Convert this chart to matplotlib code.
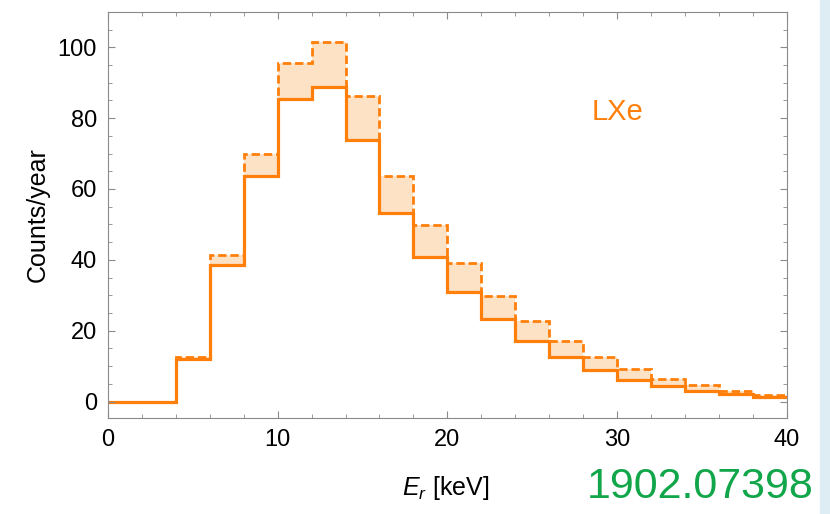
import matplotlib

matplotlib.use("Agg")
import matplotlib.pyplot as plt
import numpy as np
from matplotlib.patches import Rectangle
from matplotlib.ticker import MultipleLocator

# bin edges in keV (2 keV bins)
edges = np.arange(0, 42, 2)

# counts/year, lower (solid) and upper (dashed) histograms
solid = [0, 0, 12.0, 38.5, 63.8, 85.3, 88.7, 73.7, 53.3, 40.7,
         30.9, 23.3, 17.1, 12.5, 8.9, 6.1, 4.5, 3.0, 2.1, 1.2]
dashed = [0, 0, 12.7, 41.3, 70.0, 95.6, 101.4, 86.2, 63.8, 49.8,
          39.0, 29.9, 22.8, 17.2, 12.7, 9.2, 6.4, 4.7, 3.1, 1.9]

ORANGE = "#ff7f0a"
GRAY = "#8a8a8a"

plt.rcParams["font.family"] = ["Liberation Sans", "DejaVu Sans"]
plt.rcParams["mathtext.fontset"] = "custom"
plt.rcParams["mathtext.it"] = "Liberation Sans:italic"
plt.rcParams["mathtext.rm"] = "Liberation Sans"

fig = plt.figure(figsize=(8.3, 5.14), dpi=100)
fig.patches.append(Rectangle((820 / 830, 0), 10 / 830, 1, transform=fig.transFigure,
                             color="#deecf3", zorder=0))
ax = fig.add_axes([0.130, 0.187, 0.818, 0.790])

ax.stairs(dashed, edges, baseline=solid, fill=True, color="#fde2c6", lw=0)
ax.stairs(dashed, edges, baseline=None, color=ORANGE, lw=2.0, ls=(0, (3, 1.4)))
ax.stairs(solid, edges, baseline=None, color=ORANGE, lw=2.3)

ax.set_xlim(0, 40)
ax.set_ylim(-4.6, 110)
ax.xaxis.set_major_locator(MultipleLocator(10))
ax.xaxis.set_minor_locator(MultipleLocator(2))
ax.yaxis.set_major_locator(MultipleLocator(20))
ax.yaxis.set_minor_locator(MultipleLocator(5))
ax.tick_params(which="both", direction="in", top=True, right=True, color=GRAY,
               labelsize=17, pad=8)
ax.tick_params(which="major", length=5)
ax.tick_params(which="minor", length=3)
for s in ax.spines.values():
    s.set_color(GRAY)

ax.set_ylabel("Counts/year", fontsize=18)
ax.yaxis.set_label_coords(-0.086, 0.5)
ax.set_xlabel(r"$E_r$ [keV]", fontsize=18)
ax.xaxis.set_label_coords(0.497, -0.137)

ax.text(30.0, 81.8, "LXe", color=ORANGE, fontsize=21, ha="center", va="center")

fig.text(700 / 830, 1 - 487 / 514, "1902.07398", color="#12a64b", fontsize=31,
         ha="center", va="center")

fig.savefig("out.png", dpi=100)
